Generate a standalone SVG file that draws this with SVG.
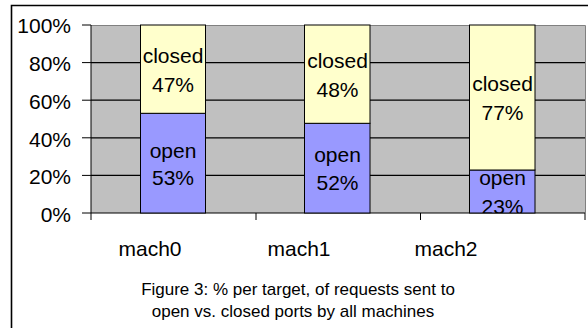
<svg xmlns="http://www.w3.org/2000/svg" width="588" height="328" viewBox="0 0 588 328">
<style>
text{font-family:"Liberation Sans",Arial,sans-serif;fill:#000}
.ax{font-size:21px;text-anchor:end}
.cat{font-size:21px;text-anchor:middle}
.bl{font-size:21px;text-anchor:middle}
.cap{font-size:17px;text-anchor:middle}
.grid{stroke:#000;stroke-width:1.2}
.tick{stroke:#000;stroke-width:1}
.open{fill:#9999FF;stroke:#000;stroke-width:1}
.closed{fill:#FFFFCC;stroke:#000;stroke-width:1}
</style>
<defs>
<clipPath id="plotclip"><rect x="91" y="25" width="494" height="188"/></clipPath>
</defs>
<rect x="0" y="0" width="588" height="328" fill="#fff"/>
<path d="M11.5,328 V5.5 H588" fill="none" stroke="#000" stroke-width="1.6"/>
<g id="plot">
<rect x="91" y="25" width="494" height="188" fill="#C0C0C0"/>
<path d="M91,25.5 H585.5 V213" fill="none" stroke="#808080" stroke-width="1"/>
<g class="grid">
<line x1="91" y1="62.6" x2="585" y2="62.6"/>
<line x1="91" y1="100.2" x2="585" y2="100.2"/>
<line x1="91" y1="137.8" x2="585" y2="137.8"/>
<line x1="91" y1="175.4" x2="585" y2="175.4"/>
</g>
</g>
<g id="axes">
<line x1="91" y1="25" x2="91" y2="220" class="tick"/>
<line x1="91" y1="213" x2="585" y2="213" stroke="#000" stroke-width="1.2"/>
<g class="tick">
<line x1="82" y1="25" x2="91" y2="25"/>
<line x1="82" y1="62.6" x2="91" y2="62.6"/>
<line x1="82" y1="100.2" x2="91" y2="100.2"/>
<line x1="82" y1="137.8" x2="91" y2="137.8"/>
<line x1="82" y1="175.4" x2="91" y2="175.4"/>
<line x1="82" y1="213" x2="91" y2="213"/>
<line x1="256" y1="213" x2="256" y2="220"/>
<line x1="420.5" y1="213" x2="420.5" y2="220"/>
<line x1="585" y1="213" x2="585" y2="220"/>
</g>
<text class="ax" x="71" y="33">100%</text>
<text class="ax" x="71" y="71">80%</text>
<text class="ax" x="71" y="108.5">60%</text>
<text class="ax" x="71" y="146.5">40%</text>
<text class="ax" x="71" y="184">20%</text>
<text class="ax" x="71" y="221.5">0%</text>
</g>
<g id="mach0">
<rect class="open" x="140.5" y="113.3" width="65" height="99.7"/>
<rect class="closed" x="140.5" y="25" width="65" height="88.3"/>
<text class="bl" x="173" y="63">closed</text>
<text class="bl" x="173" y="92">47%</text>
<text class="bl" x="173" y="158">open</text>
<text class="bl" x="173" y="185">53%</text>
<text class="cat" x="150" y="256">mach0</text>
</g>
<g id="mach1">
<rect class="open" x="304.5" y="123.3" width="65.5" height="89.7"/>
<rect class="closed" x="304.5" y="25" width="65.5" height="98.3"/>
<text class="bl" x="337.5" y="68">closed</text>
<text class="bl" x="337.5" y="97">48%</text>
<text class="bl" x="337.5" y="162">open</text>
<text class="bl" x="337.5" y="190">52%</text>
<text class="cat" x="299" y="256">mach1</text>
</g>
<g id="mach2">
<rect class="open" x="469.5" y="170" width="65.5" height="43"/>
<rect class="closed" x="469.5" y="25" width="65.5" height="145"/>
<text class="bl" x="502.5" y="91">closed</text>
<text class="bl" x="502.5" y="120">77%</text>
<g clip-path="url(#plotclip)">
<text class="bl" x="502.5" y="185">open</text>
<text class="bl" x="502.5" y="214">23%</text>
</g>
<text class="cat" x="446" y="256">mach2</text>
</g>
<g id="caption">
<text class="cap" x="298" y="295">Figure 3: % per target, of requests sent to</text>
<text class="cap" x="293" y="317">open vs. closed ports by all machines</text>
</g>
</svg>
